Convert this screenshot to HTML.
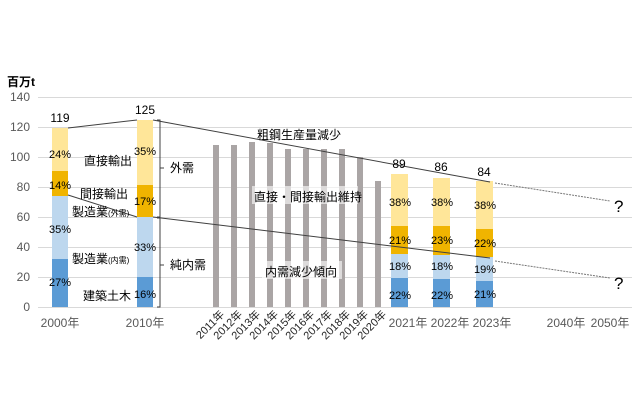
<!DOCTYPE html>
<html><head><meta charset="utf-8"><style>
body{margin:0;background:#fff}
svg{display:block;font-family:"Liberation Sans","Noto Sans CJK JP",sans-serif}
</style></head><body>
<svg width="640" height="420" viewBox="0 0 640 420">
<g stroke="#d9d9d9" stroke-width="1">
<line x1="38" y1="97.5" x2="632" y2="97.5"/><line x1="38" y1="127.5" x2="632" y2="127.5"/>
<line x1="38" y1="157.5" x2="632" y2="157.5"/><line x1="38" y1="187.5" x2="632" y2="187.5"/>
<line x1="38" y1="217.5" x2="632" y2="217.5"/><line x1="38" y1="247.5" x2="632" y2="247.5"/>
<line x1="38" y1="277.5" x2="632" y2="277.5"/><line x1="38" y1="307.5" x2="632" y2="307.5"/>
</g>
<g font-size="12" fill="#595959" text-anchor="end">
<text x="30" y="101">140</text><text x="30" y="131">120</text><text x="30" y="161">100</text>
<text x="30" y="191">80</text><text x="30" y="221">60</text><text x="30" y="251">40</text>
<text x="30" y="281">20</text><text x="30" y="311">0</text>
</g>
<text x="7" y="86" font-size="12" font-weight="bold" fill="#000">百万t</text>
<rect x="52" y="259" width="16" height="48" fill="#5b9bd5"/>
<rect x="52" y="196" width="16" height="63" fill="#bdd7ee"/>
<rect x="52" y="171" width="16" height="25" fill="#f0b400"/>
<rect x="52" y="128" width="16" height="43" fill="#ffe699"/>
<rect x="137" y="277" width="16" height="30" fill="#5b9bd5"/>
<rect x="137" y="217" width="16" height="60" fill="#bdd7ee"/>
<rect x="137" y="185" width="16" height="32" fill="#f0b400"/>
<rect x="137" y="120" width="16" height="65" fill="#ffe699"/>
<g fill="#aaa5a5">
<rect x="213" y="145" width="6" height="162"/><rect x="231" y="145" width="6" height="162"/>
<rect x="249" y="142" width="6" height="165"/><rect x="267" y="143" width="6" height="164"/>
<rect x="285" y="149" width="6" height="158"/><rect x="303" y="149" width="6" height="158"/>
<rect x="321" y="149" width="6" height="158"/><rect x="339" y="149" width="6" height="158"/>
<rect x="357" y="157" width="6" height="150"/><rect x="375" y="181" width="6" height="126"/>
</g>
<rect x="391" y="278" width="17" height="29" fill="#5b9bd5"/>
<rect x="391" y="254" width="17" height="24" fill="#bdd7ee"/>
<rect x="391" y="226" width="17" height="28" fill="#f0b400"/>
<rect x="391" y="174" width="17" height="52" fill="#ffe699"/>
<rect x="433" y="279" width="17" height="28" fill="#5b9bd5"/>
<rect x="433" y="255" width="17" height="24" fill="#bdd7ee"/>
<rect x="433" y="226" width="17" height="29" fill="#f0b400"/>
<rect x="433" y="178" width="17" height="48" fill="#ffe699"/>
<rect x="476" y="281" width="17" height="26" fill="#5b9bd5"/>
<rect x="476" y="257" width="17" height="24" fill="#bdd7ee"/>
<rect x="476" y="229" width="17" height="28" fill="#f0b400"/>
<rect x="476" y="181" width="17" height="48" fill="#ffe699"/>
<g stroke="#404040" stroke-width="1" fill="none">
<polyline points="68,128 137,120"/><polyline points="153,120 490,182"/>
<polyline points="68,195 137,217"/><polyline points="153,217 490,258"/>
<polyline points="495,183 610,201" stroke-dasharray="2,1" stroke="#777"/>
<polyline points="495,261 610,278" stroke-dasharray="2,1" stroke="#777"/>
<polyline points="157,120 160,120 160,217 157,217"/>
<polyline points="157,218 160,218 160,307 157,307"/>
<line x1="160" y1="168" x2="164" y2="168"/><line x1="160" y1="265" x2="164" y2="265"/>
</g>
<g fill="#fff" opacity="0.6">
<rect x="252" y="186" width="106" height="18"/><rect x="262" y="261" width="80" height="18"/>
</g>
<g font-size="12" fill="#000" text-anchor="middle">
<text x="60" y="122">119</text><text x="145" y="114">125</text>
<text x="399" y="168">89</text><text x="441" y="171">86</text><text x="484" y="176">84</text>
</g>
<g font-size="11" fill="#000" text-anchor="middle">
<text x="60" y="286">27%</text><text x="60" y="233">35%</text><text x="60" y="189">14%</text><text x="60" y="158">24%</text>
<text x="145" y="298">16%</text><text x="145" y="251">33%</text><text x="145" y="205">17%</text><text x="145" y="155">35%</text>
<text x="400" y="299">22%</text><text x="400" y="270">18%</text><text x="400" y="244">21%</text><text x="400" y="206">38%</text>
<text x="442" y="299">22%</text><text x="442" y="270">18%</text><text x="442" y="244">23%</text><text x="442" y="206">38%</text>
<text x="485" y="298">21%</text><text x="485" y="273">19%</text><text x="485" y="247">22%</text><text x="485" y="209">38%</text>
</g>
<g font-size="12" fill="#000">
<text x="84" y="165">直接輸出</text><text x="80" y="198">間接輸出</text>
<text x="72" y="216">製造業<tspan font-size="8">(外需)</tspan></text>
<text x="72" y="263">製造業<tspan font-size="8">(内需)</tspan></text>
<text x="83" y="300">建築土木</text>
<text x="170" y="172">外需</text><text x="170" y="269">純内需</text>
<text x="257" y="139">粗鋼生産量減少</text><text x="254" y="201">直接・間接輸出維持</text>
<text x="265" y="276">内需減少傾向</text>
</g>
<g font-size="17" fill="#000"><text x="614" y="212">?</text><text x="614" y="289">?</text></g>
<g font-size="12" fill="#595959" text-anchor="middle">
<text x="60" y="327">2000年</text><text x="145" y="327">2010年</text>
<text x="408" y="327">2021年</text><text x="450" y="327">2022年</text><text x="492" y="327">2023年</text>
<text x="566" y="327">2040年</text><text x="610" y="327">2050年</text>
</g>
<g font-size="11" fill="#262626" text-anchor="end">
<text transform="translate(225,315) rotate(-45)">2011年</text>
<text transform="translate(243,315) rotate(-45)">2012年</text>
<text transform="translate(261,315) rotate(-45)">2013年</text>
<text transform="translate(279,315) rotate(-45)">2014年</text>
<text transform="translate(297,315) rotate(-45)">2015年</text>
<text transform="translate(315,315) rotate(-45)">2016年</text>
<text transform="translate(333,315) rotate(-45)">2017年</text>
<text transform="translate(351,315) rotate(-45)">2018年</text>
<text transform="translate(369,315) rotate(-45)">2019年</text>
<text transform="translate(387,315) rotate(-45)">2020年</text>
</g>
</svg>
</body></html>
